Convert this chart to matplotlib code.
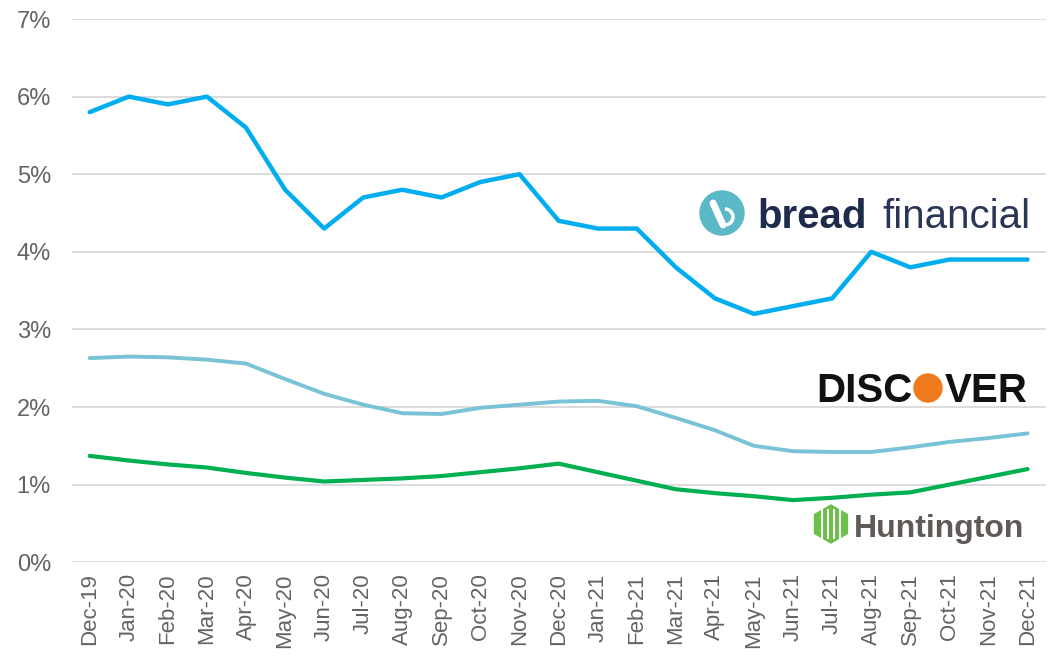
import numpy as np
import matplotlib.pyplot as plt
from matplotlib.patches import Circle, RegularPolygon, Arc

plt.rcParams['font.family'] = ['Liberation Sans', 'DejaVu Sans']

# Données (taux de pertes nettes, %)
mois = ['Dec-19', 'Jan-20', 'Feb-20', 'Mar-20', 'Apr-20', 'May-20', 'Jun-20',
        'Jul-20', 'Aug-20', 'Sep-20', 'Oct-20', 'Nov-20', 'Dec-20', 'Jan-21',
        'Feb-21', 'Mar-21', 'Apr-21', 'May-21', 'Jun-21', 'Jul-21', 'Aug-21',
        'Sep-21', 'Oct-21', 'Nov-21', 'Dec-21']
bread = [5.8, 6.0, 5.9, 6.0, 5.6, 4.8, 4.3, 4.7, 4.8, 4.7, 4.9, 5.0, 4.4,
         4.3, 4.3, 3.8, 3.4, 3.2, 3.3, 3.4, 4.0, 3.8, 3.9, 3.9, 3.9]
discover = [2.63, 2.65, 2.64, 2.61, 2.56, 2.36, 2.17, 2.03, 1.92, 1.91, 1.99,
            2.03, 2.07, 2.08, 2.01, 1.86, 1.70, 1.50, 1.43, 1.42, 1.42, 1.48,
            1.55, 1.60, 1.66]
huntington = [1.37, 1.31, 1.26, 1.22, 1.15, 1.09, 1.04, 1.06, 1.08, 1.11,
              1.16, 1.21, 1.27, 1.16, 1.05, 0.94, 0.89, 0.85, 0.80, 0.83,
              0.87, 0.90, 1.00, 1.10, 1.20]
y_ticks = [0, 1, 2, 3, 4, 5, 6, 7]

fig = plt.figure(figsize=(10.55, 6.56), dpi=100)
ax = fig.add_axes([0.068, 0.143, 0.923, 0.828])

x = np.arange(len(mois))
ax.plot(x, bread, color='#00AEEF', lw=3.2, solid_capstyle='round', zorder=3)
ax.plot(x, discover, color='#78C3D6', lw=2.8, solid_capstyle='round', zorder=3)
ax.plot(x, huntington, color='#00B050', lw=3.0, solid_capstyle='round', zorder=3)

ax.set_xlim(-0.46, len(mois) - 1 + 0.46)
ax.set_ylim(0, 7)
ax.set_yticks(y_ticks)
ax.set_yticklabels([f'{v}%' for v in y_ticks])
ax.set_xticks(x)
ax.set_xticklabels(mois, rotation=90)
ax.grid(axis='y', color='#D9D9D9', lw=1.3)
ax.set_axisbelow(True)
for s in ax.spines.values():
    s.set_visible(False)
ax.tick_params(length=0, labelcolor='#666262')
ax.tick_params(axis='x', labelsize=16, pad=8)
ax.tick_params(axis='y', labelsize=17, pad=15)

# Logos (calque en pixels)
ov = fig.add_axes([0, 0, 1, 1], zorder=5)
ov.set_xlim(0, 1055)
ov.set_ylim(656, 0)
ov.axis('off')
ov.patch.set_alpha(0)

# bread financial
ov.add_patch(Circle((722, 213), 22, color='#5BB8C6'))
ov.plot([713, 723], [203, 225], color='white', lw=5, solid_capstyle='round')
ov.add_patch(Arc((725, 217), 16, 16, theta1=-90, theta2=80, color='white', lw=2.5))
ov.text(757, 228, 'bread', fontsize=29, fontweight='bold', color='#1F2B4D',
        va='baseline', ha='left')
ov.text(882, 228, 'financial', fontsize=29, color='#2A3655',
        va='baseline', ha='left')

# DISCOVER
ov.text(816, 402, 'DISC', fontsize=29, fontweight='bold', color='#111111',
        va='baseline', ha='left')
ov.add_patch(Circle((928, 388), 14, color='#F07A1E'))
ov.text(945, 402, 'VER', fontsize=29, fontweight='bold', color='#111111',
        va='baseline', ha='left')

# Huntington
ov.add_patch(RegularPolygon((831, 524), 6, radius=19, color='#6CC04A'))
for dx in (-9, -3, 3, 9):
    ov.plot([831 + dx, 831 + dx], [510, 538], color='white', lw=1.5)
ov.text(854, 537, 'Huntington', fontsize=23, fontweight='bold', color='#5F5A58',
        va='baseline', ha='left')

fig.savefig('out.png', dpi=100)
